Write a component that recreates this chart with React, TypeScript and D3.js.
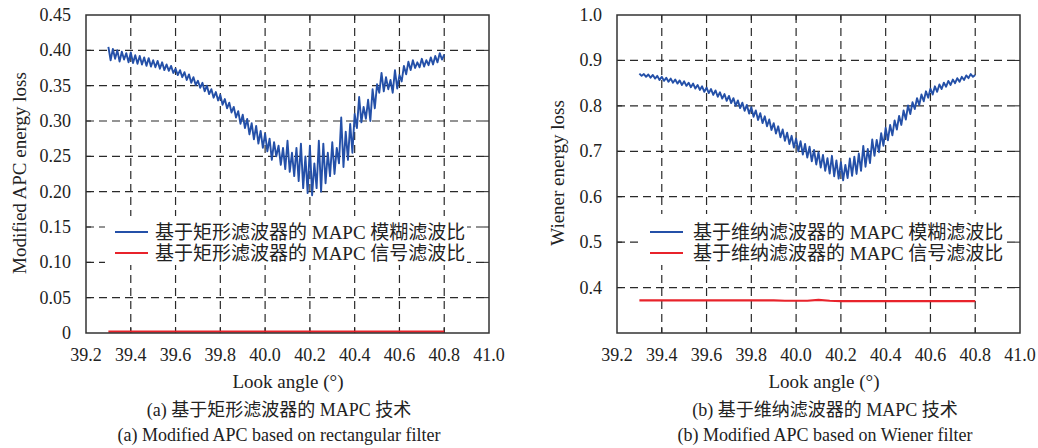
import React from 'react';
import * as d3 from 'd3';

// sampled look angles (deg), step 0.01 from 39.30 to 40.80
const angles = d3.range(151).map(i => +(39.3 + i * 0.01).toFixed(2));
const redAngles = d3.range(31).map(i => +(39.3 + i * 0.05).toFixed(2));

const xTicks = [39.2, 39.4, 39.6, 39.8, 40.0, 40.2, 40.4, 40.6, 40.8, 41.0];
const yTicksA = [0, 0.05, 0.1, 0.15, 0.2, 0.25, 0.3, 0.35, 0.4, 0.45];
const yTicksB = [0.4, 0.5, 0.6, 0.7, 0.8, 0.9, 1.0];

// (a) rectangular filter: ambiguity-to-signal ratio
const blurA = [
  0.405, 0.386, 0.402, 0.388, 0.400, 0.384, 0.398, 0.387, 0.396, 0.383,
  0.397, 0.382, 0.393, 0.381, 0.392, 0.380, 0.390, 0.378, 0.389, 0.377,
  0.386, 0.376, 0.385, 0.374, 0.383, 0.372, 0.380, 0.371, 0.378, 0.368,
  0.374, 0.365, 0.372, 0.362, 0.369, 0.358, 0.366, 0.354, 0.362, 0.351,
  0.357, 0.347, 0.354, 0.342, 0.350, 0.338, 0.345, 0.333, 0.341, 0.329,
  0.337, 0.323, 0.331, 0.318, 0.326, 0.312, 0.320, 0.305, 0.314, 0.296,
  0.309, 0.290, 0.303, 0.281, 0.297, 0.274, 0.293, 0.268, 0.286, 0.262,
  0.282, 0.257, 0.275, 0.245, 0.270, 0.250, 0.265, 0.238, 0.262, 0.232,
  0.272, 0.228, 0.255, 0.222, 0.262, 0.215, 0.268, 0.205, 0.250, 0.198,
  0.265, 0.195, 0.240, 0.205, 0.272, 0.200, 0.268, 0.212, 0.255, 0.222,
  0.270, 0.225, 0.262, 0.240, 0.305, 0.235, 0.285, 0.245, 0.296, 0.255,
  0.310, 0.290, 0.334, 0.298, 0.320, 0.303, 0.330, 0.300, 0.345, 0.318,
  0.352, 0.340, 0.368, 0.342, 0.362, 0.345, 0.358, 0.340, 0.372, 0.346,
  0.365, 0.356, 0.378, 0.366, 0.384, 0.372, 0.386, 0.375, 0.383, 0.376,
  0.388, 0.377, 0.386, 0.379, 0.390, 0.380, 0.392, 0.383, 0.396, 0.387,
  0.394,
];
const signalA = [
  0.002, 0.002, 0.002, 0.002, 0.002, 0.002, 0.002, 0.002, 0.002, 0.002,
  0.002, 0.002, 0.002, 0.002, 0.002, 0.002, 0.002, 0.002, 0.002, 0.002,
  0.002, 0.002, 0.002, 0.002, 0.002, 0.002, 0.002, 0.002, 0.002, 0.002,
  0.002,
];

// (b) Wiener filter
const blurB = [
  0.871, 0.866, 0.870, 0.864, 0.869, 0.862, 0.868, 0.860, 0.866, 0.857,
  0.864, 0.855, 0.862, 0.853, 0.860, 0.851, 0.858, 0.849, 0.856, 0.846,
  0.854, 0.844, 0.851, 0.841, 0.849, 0.838, 0.846, 0.835, 0.843, 0.831,
  0.840, 0.828, 0.837, 0.824, 0.834, 0.820, 0.830, 0.816, 0.826, 0.811,
  0.822, 0.806, 0.817, 0.800, 0.812, 0.795, 0.807, 0.789, 0.802, 0.783,
  0.797, 0.776, 0.790, 0.769, 0.784, 0.762, 0.777, 0.755, 0.770, 0.747,
  0.762, 0.739, 0.755, 0.731, 0.748, 0.723, 0.741, 0.716, 0.734, 0.708,
  0.728, 0.700, 0.722, 0.693, 0.716, 0.686, 0.710, 0.678, 0.703, 0.671,
  0.698, 0.664, 0.692, 0.657, 0.685, 0.651, 0.690, 0.645, 0.680, 0.640,
  0.676, 0.636, 0.670, 0.641, 0.684, 0.646, 0.688, 0.650, 0.695, 0.657,
  0.712, 0.666, 0.705, 0.674, 0.726, 0.690, 0.725, 0.698, 0.740, 0.712,
  0.752, 0.724, 0.758, 0.735, 0.768, 0.748, 0.778, 0.758, 0.790, 0.770,
  0.801, 0.782, 0.808, 0.793, 0.817, 0.802, 0.825, 0.810, 0.832, 0.818,
  0.838, 0.825, 0.843, 0.831, 0.847, 0.837, 0.851, 0.842, 0.855, 0.846,
  0.858, 0.850, 0.861, 0.853, 0.864, 0.857, 0.867, 0.861, 0.870, 0.864,
  0.868,
];
const signalB = [
  0.372, 0.372, 0.372, 0.372, 0.372, 0.372, 0.372, 0.372, 0.372, 0.372,
  0.372, 0.372, 0.372, 0.371, 0.371, 0.371, 0.373, 0.371, 0.370, 0.370,
  0.370, 0.370, 0.370, 0.370, 0.370, 0.370, 0.370, 0.370, 0.370, 0.370,
  0.370,
];

const FONT = 'Liberation Serif, DejaVu Serif, serif, Noto Sans CJK SC';
const BLUE = '#2450a8';
const RED = '#e8232b';
const GRID = '#2a2a2a';

type PanelProps = {
  left: number;
  top: number;
  right: number;
  bottom: number;
  yDomain: [number, number];
  yTicks: number[];
  yFormat: (v: number) => string;
  blur: number[];
  signal: number[];
  yTitle: string;
  yTitleX: number;
  legend: string[];
  legendBox: { x: number; y: number; w: number; h: number; lx: number; tx: number };
  xTitleX: number;
  captionX: number;
  caption: string[];
};

const Panel = (p: PanelProps) => {
  const x = d3.scaleLinear().domain([39.2, 41.0]).range([p.left, p.right]);
  const y = d3.scaleLinear().domain(p.yDomain).range([p.bottom, p.top]);
  const line = d3.line<[number, number]>().x(d => x(d[0])).y(d => y(d[1]));
  const blurPts = angles.map((a, i) => [a, p.blur[i]] as [number, number]);
  const sigPts = redAngles.map((a, i) => [a, p.signal[i]] as [number, number]);
  const innerX = xTicks.filter(t => t > 39.2 && t < 41.0);
  const innerY = p.yTicks.filter(t => y(t) > p.top + 1 && y(t) < p.bottom - 1);
  const lb = p.legendBox;
  const midY = (p.top + p.bottom) / 2;
  const ts = { fontFamily: FONT };

  return (
    <g fill="#222">
      {/* grid */}
      {innerX.map(t => (
        <line key={'gx' + t} x1={x(t)} x2={x(t)} y1={p.top} y2={p.bottom}
          stroke={GRID} strokeWidth={1.2} strokeDasharray="8,5" />
      ))}
      {innerY.map(t => (
        <line key={'gy' + t} x1={p.left} x2={p.right} y1={y(t)} y2={y(t)}
          stroke={GRID} strokeWidth={1.2} strokeDasharray="8,5" />
      ))}
      {/* inward ticks */}
      {innerX.map(t => (
        <g key={'tx' + t} stroke="#222" strokeWidth={1}>
          <line x1={x(t)} x2={x(t)} y1={p.bottom} y2={p.bottom - 5} />
          <line x1={x(t)} x2={x(t)} y1={p.top} y2={p.top + 5} />
        </g>
      ))}
      {innerY.map(t => (
        <g key={'ty' + t} stroke="#222" strokeWidth={1}>
          <line x1={p.left} x2={p.left + 5} y1={y(t)} y2={y(t)} />
          <line x1={p.right} x2={p.right - 5} y1={y(t)} y2={y(t)} />
        </g>
      ))}
      {/* legend background */}
      <rect x={lb.x} y={lb.y} width={lb.w} height={lb.h} fill="#fff" />
      {/* series */}
      <path d={line(sigPts) || ''} fill="none" stroke={RED} strokeWidth={2.2} />
      <path d={line(blurPts) || ''} fill="none" stroke={BLUE} strokeWidth={1.9}
        strokeLinejoin="round" />
      {/* frame */}
      <rect x={p.left} y={p.top} width={p.right - p.left} height={p.bottom - p.top}
        fill="none" stroke="#333" strokeWidth={1.5} />
      {/* legend */}
      <line x1={lb.lx} x2={lb.lx + 33} y1={232} y2={232} stroke={BLUE} strokeWidth={2} />
      <line x1={lb.lx} x2={lb.lx + 33} y1={253} y2={253} stroke={RED} strokeWidth={2} />
      <text style={ts} x={lb.tx} y={238.5} fontSize={19}>{p.legend[0]}</text>
      <text style={ts} x={lb.tx} y={259.5} fontSize={19}>{p.legend[1]}</text>
      {/* tick labels */}
      {xTicks.map(t => (
        <text style={ts} key={'lx' + t} x={x(t)} y={361} fontSize={18} textAnchor="middle">
          {t.toFixed(1)}
        </text>
      ))}
      {p.yTicks.map(t => (
        <text style={ts} key={'ly' + t} x={p.left - 15} y={y(t)} fontSize={18} textAnchor="end"
          dominantBaseline="central">
          {p.yFormat(t)}
        </text>
      ))}
      {/* titles */}
      <text style={ts} x={p.yTitleX} y={midY - 1} fontSize={19} textAnchor="middle"
        dominantBaseline="central" transform={`rotate(-90, ${p.yTitleX}, ${midY - 1})`}>
        {p.yTitle}
      </text>
      <text style={ts} x={p.xTitleX} y={388} fontSize={19} textAnchor="middle">Look angle (°)</text>
      <text style={ts} x={p.captionX} y={416} fontSize={18} textAnchor="middle">{p.caption[0]}</text>
      <text style={ts} x={p.captionX} y={441} fontSize={18} textAnchor="middle">{p.caption[1]}</text>
    </g>
  );
};

export default function App() {
  return (
    <svg width={1038} height={448} style={{ position: 'absolute', left: 0, top: 0, background: '#fff' }}>
      <rect width={1038} height={448} fill="#fff" />
      <Panel
        left={86} top={15} right={489} bottom={333}
        yDomain={[0, 0.45]} yTicks={yTicksA}
        yFormat={v => (v === 0 ? '0' : v.toFixed(2))}
        blur={blurA} signal={signalA}
        yTitle="Modified APC energy loss" yTitleX={19}
        legend={['基于矩形滤波器的 MAPC 模糊滤波比', '基于矩形滤波器的 MAPC 信号滤波比']}
        legendBox={{ x: 105, y: 216, w: 362, h: 49, lx: 115, tx: 155 }}
        xTitleX={288} captionX={279}
        caption={['(a) 基于矩形滤波器的 MAPC 技术', '(a) Modified APC based on rectangular filter']}
      />
      <Panel
        left={617} top={15} right={1020} bottom={333}
        yDomain={[0.3, 1.0]} yTicks={yTicksB}
        yFormat={v => v.toFixed(1)}
        blur={blurB} signal={signalB}
        yTitle="Wiener energy loss" yTitleX={557}
        legend={['基于维纳滤波器的 MAPC 模糊滤波比', '基于维纳滤波器的 MAPC 信号滤波比']}
        legendBox={{ x: 642, y: 214, w: 363, h: 51, lx: 650, tx: 693 }}
        xTitleX={824} captionX={825}
        caption={['(b) 基于维纳滤波器的 MAPC 技术', '(b) Modified APC based on Wiener filter']}
      />
    </svg>
  );
}
